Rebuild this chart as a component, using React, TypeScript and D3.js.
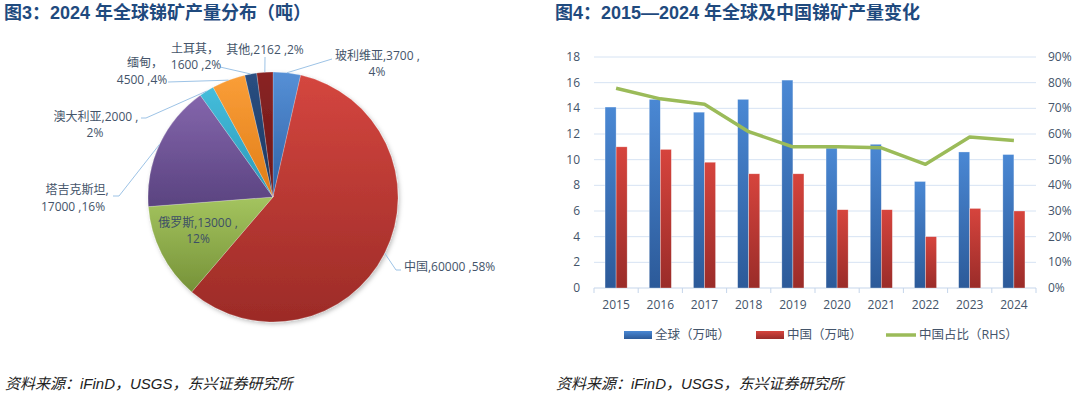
import * as d3 from "d3"

// 2024 global antimony mine output by country (tonnes)
const pieNames = ["玻利维亚", "中国", "俄罗斯", "塔吉克斯坦", "澳大利亚", "缅甸", "土耳其", "其他"]
const pieValues = [3700, 60000, 13000, 17000, 2000, 4500, 1600, 2162]
const pieShares = ["4%", "58%", "12%", "16%", "2%", "4%", "2%", "2%"]

// 2015-2024 output (10k tonnes) and China's share
const years = ["2015", "2016", "2017", "2018", "2019", "2020", "2021", "2022", "2023", "2024"]
const globalOutput = [14.1, 14.7, 13.7, 14.7, 16.2, 10.9, 11.2, 8.3, 10.6, 10.4]
const chinaOutput = [11.0, 10.8, 9.8, 8.9, 8.9, 6.1, 6.1, 4.0, 6.2, 6.0]
const chinaShare = [0.778, 0.737, 0.716, 0.609, 0.55, 0.55, 0.546, 0.482, 0.588, 0.575]
const leftTicks = [0, 2, 4, 6, 8, 10, 12, 14, 16, 18]
const rightTicks = [0, 0.1, 0.2, 0.3, 0.4, 0.5, 0.6, 0.7, 0.8, 0.9]
const legendLabels = ["全球（万吨）", "中国（万吨）", "中国占比（RHS）"]

const sliceColors = [
  ["#5690d6", "#2f62a6"],
  ["#d4463f", "#9c2b27"],
  ["#a4c45f", "#769238"],
  ["#8466ac", "#5a4380"],
  ["#45bddb", "#2b98b8"],
  ["#fa9e38", "#e07d18"],
  ["#2a4f82", "#1b365e"],
  ["#8a2424", "#6a1616"],
]

// label layout: [x, y, anchor] per line, plus the leader's label-side points
const labelLayout: { lines: [number, number, string][]; split: string; leader: [number, number][] }[] = [
  { lines: [[335, 60, "start"], [377, 76, "middle"]], split: "value", leader: [[332, 59]] },
  { lines: [[404, 271, "start"]], split: "none", leader: [[401, 270], [396, 270]] },
  { lines: [[198, 227, "middle"], [198, 243, "middle"]], split: "value", leader: [] },
  { lines: [[77, 194, "middle"], [73, 211, "middle"]], split: "name", leader: [[113, 196], [119, 196]] },
  { lines: [[96, 121, "middle"], [95, 137, "middle"]], split: "value", leader: [[141, 118], [146, 118]] },
  { lines: [[145, 67, "middle"], [142, 84, "middle"]], split: "name", leader: [[168, 82]] },
  { lines: [[195, 53, "middle"], [196, 69, "middle"]], split: "name", leader: [[220, 67]] },
  { lines: [[265, 54, "middle"]], split: "none", leader: [[265, 57]] },
]

const textColor = "#44546a"
const titleColor = "#1f4a7e"
const gridColor = "#d6e3f3"
const sansFont = "'Open Sans', 'Noto Sans CJK SC', sans-serif"
const titleFont = "'Liberation Sans', 'Noto Sans CJK SC', sans-serif"

function PieChart() {
  const cx = 273
  const cy = 197
  const r = 125
  const pie = d3.pie<number>().sort(null).value((d) => d)
  const arcs = pie(pieValues)
  const arc = d3.arc<d3.PieArcDatum<number>>().innerRadius(0).outerRadius(r)

  const edgePoint = (a: d3.PieArcDatum<number>): [number, number] => {
    const m = (a.startAngle + a.endAngle) / 2
    return [cx + r * Math.sin(m), cy - r * Math.cos(m)]
  }

  const lineText = (i: number) => {
    const name = pieNames[i]
    const v = pieValues[i]
    const s = pieShares[i]
    const layout = labelLayout[i]
    if (layout.split === "value") return [`${name},${v} ,`, s]
    if (layout.split === "name") return name.length <= 3 ? [`${name}，`, `${v} ,${s}`] : [`${name},`, `${v} ,${s}`]
    return [`${name},${v} ,${s}`]
  }

  const leaderLine = d3.line()

  return (
    <g>
      <defs>
        {sliceColors.map((c, i) => (
          <linearGradient key={i} id={`slice${i}`} x1="0" y1="0" x2="0" y2="1">
            <stop offset="0%" stopColor={c[0]} />
            <stop offset="100%" stopColor={c[1]} />
          </linearGradient>
        ))}
        <filter id="pieShadow" x="-10%" y="-10%" width="130%" height="130%">
          <feDropShadow dx="1.5" dy="2" stdDeviation="2" floodColor="#000" floodOpacity="0.25" />
        </filter>
      </defs>
      <g transform={`translate(${cx},${cy})`} filter="url(#pieShadow)">
        {arcs.map((a, i) => (
          <path key={i} d={arc(a) || ""} fill={`url(#slice${i})`} stroke="#ffffff" strokeOpacity={0.35} strokeWidth={0.6} />
        ))}
      </g>
      {arcs.map((a, i) => {
        const layout = labelLayout[i]
        if (layout.leader.length === 0) return null
        const pts = [...layout.leader, edgePoint(a)] as [number, number][]
        return <path key={i} d={leaderLine(pts) || ""} fill="none" stroke="#9dc3e6" strokeWidth={1} />
      })}
      {labelLayout.map((layout, i) => {
        const texts = lineText(i)
        return layout.lines.map(([x, y, anchor], j) => (
          <text
            key={`${i}-${j}`}
            x={x}
            y={y}
            textAnchor={anchor}
            fontFamily={sansFont}
            fontSize={12}
            fill={i === 2 ? "#3d4f66" : textColor}
          >
            {texts[j]}
          </text>
        ))
      })}
    </g>
  )
}

function ComboChart() {
  const left = 594
  const right = 1036
  const top = 57
  const bottom = 288
  const x = d3.scaleBand<string>().domain(years).range([left, right]).padding(0)
  const bw = x.bandwidth()
  const yL = d3.scaleLinear().domain([0, 18]).range([bottom, top])
  const yR = d3.scaleLinear().domain([0, 0.9]).range([bottom, top])
  const pct = d3.format(".0%")
  const shareLine = d3
    .line<number>()
    .x((_, i) => (x(years[i]) || 0) + bw / 2)
    .y((d) => yR(d))
  const edges = [...years.map((yr) => x(yr) || 0), right]

  return (
    <g>
      <defs>
        <linearGradient id="barBlue" x1="0" y1="0" x2="0" y2="1">
          <stop offset="0%" stopColor="#4a88d4" />
          <stop offset="100%" stopColor="#2c5a99" />
        </linearGradient>
        <linearGradient id="barRed" x1="0" y1="0" x2="0" y2="1">
          <stop offset="0%" stopColor="#d6443d" />
          <stop offset="100%" stopColor="#9a2c29" />
        </linearGradient>
      </defs>
      {leftTicks.slice(1).map((t) => (
        <line key={t} x1={left} x2={right} y1={yL(t)} y2={yL(t)} stroke={gridColor} strokeWidth={1} />
      ))}
      <line x1={left} x2={right} y1={bottom} y2={bottom} stroke="#c5d5ea" strokeWidth={1} />
      {edges.map((e, i) => (
        <line key={i} x1={e} x2={e} y1={bottom} y2={bottom + 5} stroke="#c5d5ea" strokeWidth={1} />
      ))}
      {leftTicks.map((t) => (
        <text key={t} x={580} y={yL(t) + 4} textAnchor="end" fontFamily={sansFont} fontSize={12} fill={textColor}>
          {t}
        </text>
      ))}
      {rightTicks.map((t) => (
        <text key={t} x={1048} y={yR(t) + 4} textAnchor="start" fontFamily={sansFont} fontSize={12} fill={textColor}>
          {pct(t)}
        </text>
      ))}
      {years.map((yr, i) => (
        <g key={yr}>
          <rect
            x={(x(yr) || 0) + bw * 0.25}
            y={yL(globalOutput[i])}
            width={bw * 0.25}
            height={bottom - yL(globalOutput[i])}
            fill="url(#barBlue)"
            stroke="#ffffff"
            strokeOpacity={0.5}
            strokeWidth={0.6}
          />
          <rect
            x={(x(yr) || 0) + bw * 0.5}
            y={yL(chinaOutput[i])}
            width={bw * 0.25}
            height={bottom - yL(chinaOutput[i])}
            fill="url(#barRed)"
            stroke="#ffffff"
            strokeOpacity={0.5}
            strokeWidth={0.6}
          />
          <text x={(x(yr) || 0) + bw / 2} y={309} textAnchor="middle" fontFamily={sansFont} fontSize={12} fill={textColor}>
            {yr}
          </text>
        </g>
      ))}
      <path d={shareLine(chinaShare) || ""} fill="none" stroke="#9bbb59" strokeWidth={3.5} strokeLinejoin="round" />

      {/* legend */}
      <rect x={624} y={331} width={28} height={8} fill="url(#barBlue)" />
      <text x={655} y={339} fontFamily={sansFont} fontSize={12.5} fill={textColor}>
        {legendLabels[0]}
      </text>
      <rect x={756} y={331} width={28} height={8} fill="url(#barRed)" />
      <text x={787} y={339} fontFamily={sansFont} fontSize={12.5} fill={textColor}>
        {legendLabels[1]}
      </text>
      <line x1={886} x2={916} y1={335} y2={335} stroke="#9bbb59" strokeWidth={3.5} />
      <text x={919} y={339} fontFamily={sansFont} fontSize={12.5} fill={textColor}>
        {legendLabels[2]}
      </text>
    </g>
  )
}

export default function App() {
  return (
    <svg
      width={1080}
      height={393}
      viewBox="0 0 1080 393"
      style={{ position: "absolute", left: 0, top: 0, background: "#ffffff" }}
    >
      <rect width={1080} height={393} fill="#ffffff" />
      <text x={4} y={19} fontFamily={titleFont} fontWeight="bold" fontSize={18} fill={titleColor}>
        图3：2024 年全球锑矿产量分布（吨）
      </text>
      <text x={555} y={19} fontFamily={titleFont} fontWeight="bold" fontSize={18} fill={titleColor}>
        图4：2015—2024 年全球及中国锑矿产量变化
      </text>
      <PieChart />
      <ComboChart />
      <text x={5} y={389} fontFamily={titleFont} fontStyle="italic" fontSize={15} fill="#222222">
        资料来源：iFinD，USGS，东兴证券研究所
      </text>
      <text x={556} y={389} fontFamily={titleFont} fontStyle="italic" fontSize={15} fill="#222222">
        资料来源：iFinD，USGS，东兴证券研究所
      </text>
    </svg>
  )
}
